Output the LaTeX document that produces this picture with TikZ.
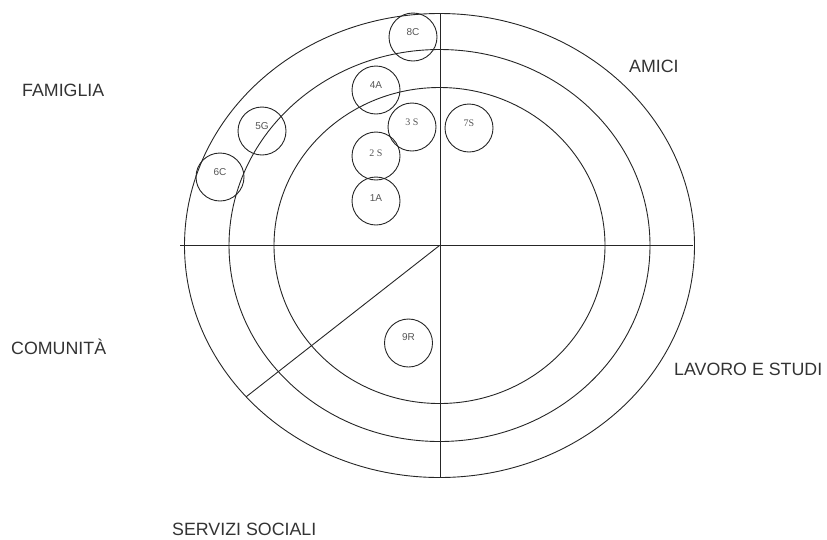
\documentclass[tikz,border=0pt]{standalone}
\usepackage{fontspec}
\usetikzlibrary{calc}
\setmainfont{Liberation Sans}
\newfontfamily\serifsmall{Liberation Serif}
\definecolor{ink}{HTML}{262626}
\definecolor{txt}{HTML}{333333}
\definecolor{tagtxt}{HTML}{555555}
\begin{document}
\begin{tikzpicture}[x=1pt,y=-1pt,
  ring/.style={draw=ink,line width=0.9pt},
  axis/.style={draw=ink,line width=0.9pt},
  member/.style={circle,draw=ink,line width=0.9pt,minimum size=48pt,inner sep=0pt},
  sector/.style={text=txt,font=\fontsize{17.8pt}{20pt}\selectfont,anchor=west,inner sep=0pt},
  tag/.style={text=tagtxt,font=\fontsize{10pt}{11pt}\selectfont,inner sep=0pt}
]
\useasboundingbox (0,0) rectangle (827,539);
\coordinate (c) at (439.5,245.5);
% rings
\draw[ring] (c) ellipse [x radius=255, y radius=232];
\draw[ring] (c) ellipse [x radius=210.5, y radius=196];
\draw[ring] (c) ellipse [x radius=165.5, y radius=158];
% axes
\coordinate (hl) at (180,245.5);
\coordinate (hr) at (693,245.5);
\coordinate (vt) at (440,13.5);
\coordinate (vb) at (440,477.5);
\coordinate (dg) at ($(c)+(139.3:255 and 232)$);
\draw[axis] (hl) -- (hr);
\draw[axis] (vt) -- (vb);
\draw[axis] (c) -- (dg);
% sector labels
\node[sector] (fam) at (22,90.5) {FAMIGLIA};
\node[sector] (ami) at (629,66) {AMICI};
\node[sector] (com) at (11,346.5) {COMUNITÀ};
\node[sector] (lav) at (674,369) {LAVORO E STUDI};
\node[sector] (ser) at (172,529) {SERVIZI SOCIALI};
% members
\node[member,label={[tag,yshift=5pt]center:8C}] (m8) at (413,37) {};
\node[member,label={[tag,yshift=5pt]center:4A}] (m4) at (376,90) {};
\node[member,label={[tag,yshift=5pt]center:{\serifsmall 3 S}}] (m3) at (412,127) {};
\node[member,label={[tag,yshift=5pt]center:{\serifsmall 7S}}] (m7) at (469,128) {};
\node[member,label={[tag,yshift=5pt]center:5G}] (m5) at (262,131) {};
\node[member,label={[tag,yshift=3pt]center:{\serifsmall 2 S}}] (m2) at (376,156) {};
\node[member,label={[tag,yshift=5pt]center:6C}] (m6) at (220,177) {};
\node[member,label={[tag,yshift=3pt]center:1A}] (m1) at (376,201) {};
\node[member,label={[tag,yshift=6pt]center:9R}] (m9) at (408.5,343) {};
\end{tikzpicture}
\end{document}
